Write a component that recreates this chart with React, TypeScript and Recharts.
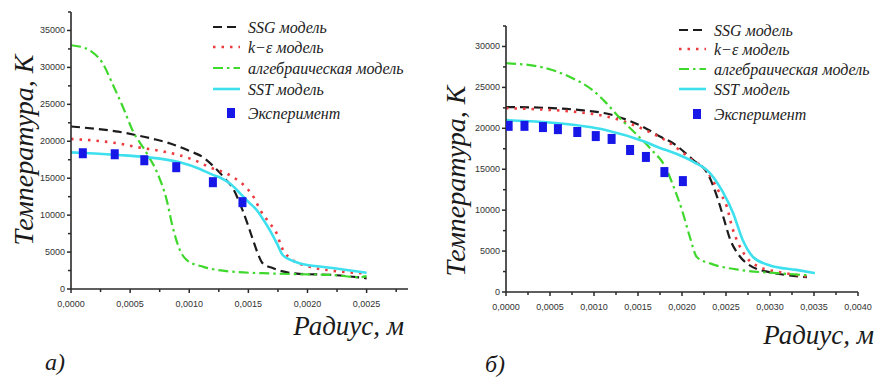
import { ComposedChart, Line, Scatter, XAxis, YAxis } from 'recharts';

// ---- panel а) : [радиус, температура] ----
const ssgA = [[0, 22000], [0.0002, 21700], [0.0004, 21300], [0.00056, 20800], [0.0007, 20300], [0.00084, 19700], [0.001, 18700], [0.00112, 17800], [0.00123, 16200], [0.00131, 14800], [0.00137, 13600], [0.00145, 10700], [0.0015, 8500], [0.00154, 6600], [0.00158, 4800], [0.00162, 3500], [0.00171, 2800], [0.00193, 2050], [0.00221, 1900], [0.0025, 1450]];
const keA = [[0, 20300], [0.0002, 20100], [0.0004, 19700], [0.00056, 19200], [0.00075, 18700], [0.00092, 18100], [0.00105, 17400], [0.00117, 16500], [0.00132, 15600], [0.00142, 14600], [0.00149, 13600], [0.00155, 12300], [0.0016, 10700], [0.00168, 8900], [0.00174, 7500], [0.00178, 5700], [0.00185, 4200], [0.00202, 3000], [0.0022, 2500], [0.0025, 2100]];
const algA = [[0, 33000], [0.00008, 32800], [0.00016, 32300], [0.00027, 30500], [0.00035, 27800], [0.00044, 24600], [0.00052, 21500], [0.00064, 18400], [0.00073, 15700], [0.00081, 12000], [0.00086, 8400], [0.00092, 5300], [0.00098, 3900], [0.00112, 3000], [0.0014, 2300], [0.0017, 2100], [0.00193, 2000], [0.0022, 1900], [0.00244, 1600], [0.0025, 1750]];
const sstA = [[0, 18500], [0.0002, 18350], [0.0004, 18150], [0.00064, 17850], [0.00092, 17150], [0.00109, 16250], [0.0012, 15450], [0.00126, 15100], [0.00135, 14200], [0.00143, 12950], [0.0015, 11800], [0.00157, 10700], [0.00163, 9300], [0.00168, 8000], [0.00174, 6200], [0.00179, 4600], [0.00186, 3900], [0.00193, 3500], [0.00221, 2850], [0.0025, 2200]];
const expA = [[0.0001, 18380], [0.00037, 18240], [0.00062, 17430], [0.00089, 16490], [0.0012, 14460], [0.00145, 11760]];
const xTicksA = [0, 0.00025, 0.0005, 0.00075, 0.001, 0.00125, 0.0015, 0.00175, 0.002, 0.00225, 0.0025, 0.00275];
const yTicksA = [0, 2500, 5000, 7500, 10000, 12500, 15000, 17500, 20000, 22500, 25000, 27500, 30000, 32500, 35000, 37500];

// ---- panel б) ----
const ssgB = [[0, 22600], [0.00045, 22500], [0.00082, 22250], [0.0012, 21650], [0.00158, 20050], [0.00175, 19000], [0.00188, 18300], [0.00213, 16100], [0.00229, 14500], [0.0024, 11600], [0.00247, 9150], [0.00255, 6350], [0.00263, 4750], [0.00277, 3250], [0.003, 2400], [0.0032, 2050], [0.00342, 1800]];
const keB = [[0, 22450], [0.0004, 22300], [0.0008, 22000], [0.0012, 21300], [0.0016, 19700], [0.00186, 18200], [0.00209, 16350], [0.00229, 14650], [0.00241, 12450], [0.00251, 10400], [0.00257, 7900], [0.00264, 5950], [0.00274, 4150], [0.00288, 3050], [0.0031, 2450], [0.00342, 1900]];
const algB = [[0, 27950], [0.00037, 27550], [0.00075, 26150], [0.00098, 24700], [0.00113, 23200], [0.00128, 21400], [0.00147, 19400], [0.00166, 17300], [0.00181, 15300], [0.0019, 13000], [0.00201, 9650], [0.00209, 6700], [0.00217, 4250], [0.00232, 3500], [0.00269, 2650], [0.00308, 2300], [0.00342, 2050]];
const sstB = [[0, 21000], [0.00056, 20650], [0.00113, 19800], [0.00158, 18350], [0.00175, 17600], [0.00192, 16950], [0.00213, 15900], [0.00232, 14500], [0.00247, 12100], [0.00258, 9650], [0.00269, 6350], [0.00281, 4250], [0.003, 3250], [0.0033, 2700], [0.00351, 2300]];
const expB = [[0.00003, 20300], [0.00021, 20300], [0.00042, 20150], [0.00059, 19900], [0.00081, 19550], [0.00102, 19050], [0.0012, 18700], [0.00141, 17350], [0.00159, 16500], [0.0018, 14650], [0.00201, 13550]];
const xTicksB = [0, 0.00025, 0.0005, 0.00075, 0.001, 0.00125, 0.0015, 0.00175, 0.002, 0.00225, 0.0025, 0.00275, 0.003, 0.00325, 0.0035, 0.00375, 0.004];
const yTicksB = [0, 2500, 5000, 7500, 10000, 12500, 15000, 17500, 20000, 22500, 25000, 27500, 30000, 32500];

const legendNames = ['SSG модель', 'k−ε модель', 'алгебраическая модель', 'SST модель', 'Эксперимент'];

const SANS = '"Liberation Sans", Arial, sans-serif';
const SERIF = '"Liberation Serif", "Times New Roman", serif';
const AXIS = '#2a2a2a';

const lineStyles = [
  { stroke: '#1c1c1c', strokeWidth: 2.2, strokeDasharray: '9 5' },
  { stroke: '#ec3a3f', strokeWidth: 2.6, strokeDasharray: '2.5 6' },
  { stroke: '#3fd82c', strokeWidth: 2.2, strokeDasharray: '10 4 2.5 4' },
  { stroke: '#3ee0ee', strokeWidth: 2.6, strokeDasharray: undefined },
];
const expColor = '#1717e8';

const pts = (rows: number[][]) => rows.map(([r, t]) => ({ r, t }));
const isMajor = (v: number, step: number) => Math.abs(v / step - Math.round(v / step)) < 1e-6;

function XTick(props: any) {
  const { x, y, payload } = props;
  const major = isMajor(payload.value, 0.0005);
  return (
    <g>
      <line x1={x} x2={x} y1={y} y2={y + (major ? 4 : 3)} stroke={AXIS} strokeWidth={1.5} />
      {major && (
        <text x={x} y={y + 15} textAnchor="middle" dominantBaseline="central" fontSize={9} fill="#333" fontFamily={SANS}>
          {payload.value.toFixed(4).replace('.', ',')}
        </text>
      )}
    </g>
  );
}

function YTick(props: any) {
  const { x, y, payload } = props;
  const major = isMajor(payload.value, 5000);
  return (
    <g>
      <line x1={x} x2={x - (major ? 4 : 3)} y1={y} y2={y} stroke={AXIS} strokeWidth={1.5} />
      {major && (
        <text x={x - 6} y={y} textAnchor="end" dominantBaseline="central" fontSize={9} fill="#333" fontFamily={SANS}>
          {payload.value}
        </text>
      )}
    </g>
  );
}

const Square = (p: any) => <rect x={p.cx - 4} y={p.cy - 5} width={8} height={10} fill={expColor} />;

function Panel(props: any) {
  const { left, width, margin, yWidth, xDomain, yDomain, xTicks, yTicks, lines, exp } = props;
  return (
    <div style={{ position: 'absolute', left, top: 0 }}>
      <ComposedChart width={width} height={378} margin={margin}>
        <XAxis type="number" dataKey="r" domain={xDomain} ticks={xTicks} interval={0} tick={<XTick />}
          tickLine={false} tickSize={0} tickMargin={0} height={30} allowDataOverflow
          axisLine={{ stroke: AXIS, strokeWidth: 1.6 }} />
        <YAxis type="number" dataKey="t" domain={yDomain} ticks={yTicks} interval={0} tick={<YTick />}
          tickLine={false} tickSize={0} tickMargin={0} width={yWidth} allowDataOverflow
          axisLine={{ stroke: AXIS, strokeWidth: 1.6 }} />
        {lines.map((rows: number[][], i: number) => (
          <Line key={i} data={pts(rows)} dataKey="t" type="monotone" dot={false} activeDot={false}
            isAnimationActive={false} {...lineStyles[i]} />
        ))}
        <Scatter data={pts(exp)} dataKey="t" shape={Square} isAnimationActive={false} />
      </ComposedChart>
    </div>
  );
}

function LegendBox({ x, y, gaps }: { x: number; y: number; gaps: number[] }) {
  return (
    <g>
      {legendNames.map((name, i) => {
        const cy = y + gaps[i];
        return (
          <g key={name}>
            {i < 4 ? (
              <line x1={x} x2={x + 27} y1={cy} y2={cy} {...lineStyles[i]} />
            ) : (
              <rect x={x + 14} y={cy - 5} width={8} height={10} fill={expColor} />
            )}
            <text x={x + 35} y={cy} dominantBaseline="central" fontSize={16} fontStyle="italic" fill="#222" fontFamily={SERIF}>
              {name}
            </text>
          </g>
        );
      })}
    </g>
  );
}

const titleStyle = { fontFamily: SERIF, fontStyle: 'italic', fill: '#1a1a1a' } as const;

export default function App() {
  return (
    <div style={{ position: 'absolute', left: 0, top: 0, width: 878, height: 378, background: '#fff', overflow: 'hidden' }}>
      <Panel left={0} width={440} margin={{ top: 12, right: 32, bottom: 59, left: 0 }} yWidth={71}
        xDomain={[0, 0.00285]} yDomain={[0, 37500]} xTicks={xTicksA} yTicks={yTicksA}
        lines={[ssgA, keA, algA, sstA]} exp={expA} />
      <Panel left={440} width={438} margin={{ top: 26, right: 20, bottom: 56, left: 0 }} yWidth={66}
        xDomain={[0, 0.004]} yDomain={[0, 32500]} xTicks={xTicksB} yTicks={yTicksB}
        lines={[ssgB, keB, algB, sstB]} exp={expB} />
      <svg width={878} height={378} style={{ position: 'absolute', left: 0, top: 0, pointerEvents: 'none' }}>
        <LegendBox x={213} y={27} gaps={[0, 20, 41, 62, 86]} />
        <LegendBox x={679} y={30} gaps={[0, 19, 39, 59, 84]} />
        <text x={23} y={150} transform="rotate(-90 23 150)" textAnchor="middle" dominantBaseline="central" fontSize={28} {...titleStyle}>
          Температура, К
        </text>
        <text x={455} y={181} transform="rotate(-90 455 181)" textAnchor="middle" dominantBaseline="central" fontSize={28} {...titleStyle}>
          Температура, К
        </text>
        <text x={404} y={326} textAnchor="end" dominantBaseline="central" fontSize={27} {...titleStyle}>Радиус, м</text>
        <text x={874} y={335} textAnchor="end" dominantBaseline="central" fontSize={27} {...titleStyle}>Радиус, м</text>
        <text x={45} y={362} dominantBaseline="central" fontSize={24} {...titleStyle}>а)</text>
        <text x={485} y={364} dominantBaseline="central" fontSize={24} {...titleStyle}>б)</text>
      </svg>
    </div>
  );
}
